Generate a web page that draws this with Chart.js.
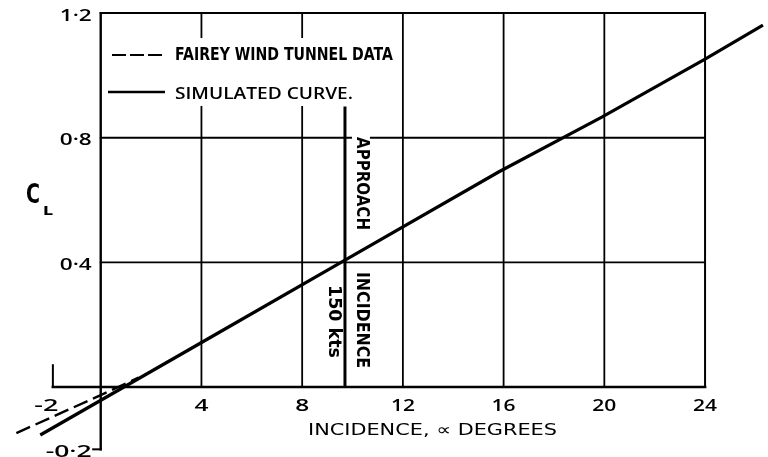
<!DOCTYPE html>
<html>
<head>
<meta charset="utf-8">
<script src="https://cdn.jsdelivr.net/npm/chart.js@4/dist/chart.umd.min.js"></script>
<style>
  html, body { margin: 0; padding: 0; background: #fff; }
  #wrap { width: 768px; height: 457px; }
</style>
</head>
<body>
<div id="wrap"><canvas id="liftChart" width="768" height="457"></canvas></div>
<script>
// simulated lift curve
const simAlpha = [-2.4, 3.9, 9.7, 15.8, 19.9, 24.0, 26.3];
const simCL = [-0.154, 0.138, 0.407, 0.690, 0.866, 1.052, 1.161];

// fairey tunnel data - only the low end shows clear of the simulated curve
const faireyAlpha = [-3.35, 0.0, 1.5];
const faireyCL = [-0.148, -0.026, 0.03];

// approach incidence at 150 kts
const approachAlpha = [9.7, 9.7];
const approachCL = [0, 0.9];

const xTickVals = [-2, 4, 8, 12, 16, 20, 24];
const xTickText = ['-2', '4', '8', '12', '16', '20', '24'];
const yTickVals = [1.2, 0.8, 0.4, -0.2];
const yTickText = ['1·2', '0·8', '0·4', '-0·2'];
const xGrid = [4, 8, 12, 16, 20];
const yGrid = [0.4, 0.8];

const INK = '#000';

function pts(xs, ys) {
    return xs.map((x, i) => ({ x, y: ys[i] }));
}

// draws text squeezed/stretched to a given width
function fitText(ctx, text, x, y, w, font, align) {
    ctx.save();
    ctx.font = font;
    const m = ctx.measureText(text).width;
    ctx.translate(x, y);
    ctx.scale(w / m, 1);
    ctx.textAlign = align || 'left';
    ctx.textBaseline = 'middle';
    ctx.fillStyle = INK;
    ctx.fillText(text, 0, 0);
    ctx.restore();
}

function seg(ctx, x1, y1, x2, y2, lw) {
    ctx.beginPath();
    ctx.lineWidth = lw;
    ctx.moveTo(x1, y1);
    ctx.lineTo(x2, y2);
    ctx.stroke();
}

const paperPlugin = {
    id: 'paper',
    beforeDatasetsDraw(chart) {
        const ctx = chart.ctx;
        const xs = chart.scales.x, ys = chart.scales.y;
        const X = v => xs.getPixelForValue(v);
        const Y = v => ys.getPixelForValue(v);
        ctx.save();
        ctx.strokeStyle = INK;
        ctx.lineCap = 'square';

        xGrid.forEach(v => seg(ctx, X(v), Y(0), X(v), Y(1.2), 1.8));
        yGrid.forEach(v => seg(ctx, X(0), Y(v), X(24), Y(v), 1.8));

        // frame + axes
        seg(ctx, X(0), Y(1.2), X(24), Y(1.2), 2);
        seg(ctx, X(24), Y(1.2), X(24), Y(0), 2);
        seg(ctx, X(-1.9), Y(0), X(24), Y(0), 2.6);
        seg(ctx, X(-1.9), Y(0), X(-1.9), Y(0.07), 2);
        seg(ctx, X(0), Y(1.2), X(0), Y(-0.2), 2.4);
        seg(ctx, X(-0.3), Y(-0.2), X(0), Y(-0.2), 2);

        // legend
        ctx.fillStyle = '#fff';
        ctx.fillRect(X(0) + 2, 38, 292, 68);
        ctx.lineCap = 'butt';
        ctx.setLineDash([14, 4]);
        seg(ctx, 112, 55, 162, 55, 2);
        ctx.setLineDash([]);
        seg(ctx, 108, 92, 165, 92, 2.4);
        ctx.restore();

        fitText(ctx, 'FAIREY WIND TUNNEL DATA', 175, 56, 218, 'bold 17px "DejaVu Sans"');
        fitText(ctx, 'SIMULATED CURVE.', 175, 94, 178, '600 17px "Open Sans"');
    },
    afterDatasetsDraw(chart) {
        const ctx = chart.ctx;
        const xs = chart.scales.x, ys = chart.scales.y;
        const X = v => xs.getPixelForValue(v);
        const Y = v => ys.getPixelForValue(v);

        xTickVals.forEach((v, i) => {
            const t = xTickText[i];
            const w = t.length === 1 ? 14 : 24;
            const cx = v < 0 ? X(v) - 4 : X(v);
            fitText(ctx, t, cx - w / 2, Y(0) + 19, w, '600 17px "Open Sans"');
        });
        yTickVals.forEach((v, i) => {
            const t = yTickText[i];
            const w = t.length > 3 ? 46 : 32;
            fitText(ctx, t, X(0) - 9, Y(v) + 3, w, '600 16px "Open Sans"', 'right');
        });

        fitText(ctx, 'INCIDENCE, ∝ DEGREES', 308, 431, 249, '16px "DejaVu Sans"');
        fitText(ctx, 'C', 26, 196, 14, 'bold 26px "DejaVu Sans"');
        fitText(ctx, 'L', 43, 212, 10, 'bold 13px "DejaVu Sans"');

        // vertical notes beside the approach line
        const ax = X(approachAlpha[0]);
        ctx.save();
        ctx.fillStyle = '#fff';
        ctx.fillRect(ax + 7, 132, 18, 102);
        ctx.restore();
        const rot = (text, cx, top, w) => {
            ctx.save();
            ctx.translate(cx, top);
            ctx.rotate(Math.PI / 2);
            fitText(ctx, text, 0, 0, w, 'bold 17px "DejaVu Sans"');
            ctx.restore();
        };
        rot('APPROACH', ax + 16, 137, 93);
        rot('INCIDENCE', ax + 16, 272, 96);
        rot('150 kts', ax - 12, 285, 73);
    }
};

new Chart(document.getElementById('liftChart'), {
    type: 'line',
    data: {
        datasets: [
            {
                label: 'Simulated curve',
                data: pts(simAlpha, simCL),
                borderColor: INK,
                borderWidth: 3.2,
                pointRadius: 0,
                tension: 0
            },
            {
                label: 'Fairey wind tunnel data',
                data: pts(faireyAlpha, faireyCL),
                borderColor: INK,
                borderWidth: 2.4,
                borderDash: [15, 6],
                pointRadius: 0,
                tension: 0
            },
            {
                label: 'Approach incidence',
                data: pts(approachAlpha, approachCL),
                borderColor: INK,
                borderWidth: 3,
                pointRadius: 0
            }
        ]
    },
    options: {
        responsive: false,
        animation: false,
        devicePixelRatio: 1,
        layout: { padding: 0 },
        plugins: {
            legend: { display: false },
            tooltip: { enabled: false }
        },
        scales: {
            x: { type: 'linear', min: -4.0, max: 26.5, display: false },
            y: { type: 'linear', min: -0.2246, max: 1.242, display: false }
        }
    },
    plugins: [paperPlugin]
});
</script>
</body>
</html>
